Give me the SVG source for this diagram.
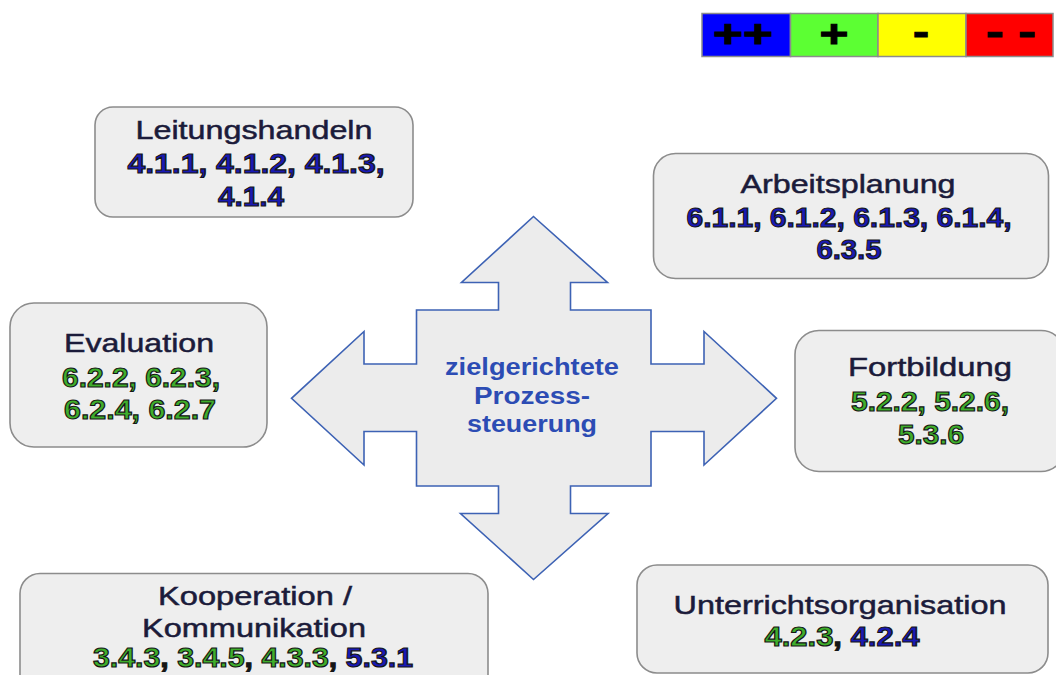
<svg xmlns="http://www.w3.org/2000/svg" width="1056" height="675" viewBox="0 0 1056 675">
<style>
.box{fill:#eeeeee;stroke:#8c8c8c;stroke-width:1.6}
.t{font-family:"Liberation Sans",Arial,sans-serif;font-size:26px;fill:#1b1b3a;stroke:#1b1b3a;stroke-width:0.5;text-anchor:middle}
.n{font-family:"Liberation Sans",Arial,sans-serif;font-size:27px;font-weight:bold;text-anchor:middle;stroke:#151515;stroke-width:1.1}
.b{fill:#1a1ab4}
.g{fill:#3fae2c}
.k{fill:#151515}
.c{font-family:"Liberation Sans",Arial,sans-serif;font-size:23px;font-weight:bold;fill:#2c4cb4;text-anchor:middle}
.lg{font-family:"Liberation Sans",Arial,sans-serif;font-size:38px;font-weight:bold;fill:#000;stroke:#000;stroke-width:1;text-anchor:middle}
.cell{stroke:#8c8c8c;stroke-width:1.5}
</style>
<g id="legend">
<rect class="cell" x="702" y="13.5" width="88.5" height="43" fill="#0000ff"/>
<rect class="cell" x="790.5" y="13.5" width="87.5" height="43" fill="#5cff33"/>
<rect class="cell" x="878" y="13.5" width="88" height="43" fill="#ffff00"/>
<rect class="cell" x="966" y="13.5" width="87" height="43" fill="#ff0000"/>
<text class="lg" x="743" y="47" textLength="60" lengthAdjust="spacingAndGlyphs">++</text>
<text class="lg" x="834" y="47" textLength="29" lengthAdjust="spacingAndGlyphs">+</text>
<text class="lg" x="921" y="45" textLength="16" lengthAdjust="spacingAndGlyphs">-</text>
<text class="lg" x="1011" y="45" textLength="50" lengthAdjust="spacingAndGlyphs">- -</text>
</g>
<g id="center">
<path d="M533.5,216.5 L607.5,282.5 L570.5,282.5 L570.5,310 L651,310 L651,364 L704,364 L704,331.5 L776.5,398.3 L704,465 L704,431.5 L651,431.5 L651,486 L570.5,486 L570.5,513.5 L608,513.5 L533.5,579.5 L460.5,513.5 L498.5,513.5 L498.5,486 L416.5,486 L416.5,431.5 L364,431.5 L364,465 L291.5,398.3 L364,331.5 L364,364 L416.5,364 L416.5,310 L498.5,310 L498.5,282.5 L461.5,282.5 Z" fill="#ececec" stroke="#3d62b4" stroke-width="1.6" stroke-linejoin="miter"/>
<text class="c" x="532" y="375" textLength="174" lengthAdjust="spacingAndGlyphs">zielgerichtete</text>
<text class="c" x="532" y="404" textLength="116" lengthAdjust="spacingAndGlyphs">Prozess-</text>
<text class="c" x="532" y="432" textLength="130" lengthAdjust="spacingAndGlyphs">steuerung</text>
</g>
<g id="leitungshandeln">
<rect class="box" x="95" y="107" width="318" height="110" rx="18"/>
<text class="t" x="254" y="139" textLength="237" lengthAdjust="spacingAndGlyphs">Leitungshandeln</text>
<text class="n b" x="256" y="173" textLength="257" lengthAdjust="spacingAndGlyphs">4.1.1, 4.1.2, 4.1.3,</text>
<text class="n b" x="251" y="206" textLength="66" lengthAdjust="spacingAndGlyphs">4.1.4</text>
</g>
<g id="arbeitsplanung">
<rect class="box" x="653.5" y="153.5" width="395" height="125" rx="22"/>
<text class="t" x="848" y="193" textLength="215" lengthAdjust="spacingAndGlyphs">Arbeitsplanung</text>
<text class="n b" x="849" y="227" textLength="325" lengthAdjust="spacingAndGlyphs">6.1.1, 6.1.2, 6.1.3, 6.1.4,</text>
<text class="n b" x="849" y="259" textLength="65" lengthAdjust="spacingAndGlyphs">6.3.5</text>
</g>
<g id="evaluation">
<rect class="box" x="10" y="303" width="257" height="144" rx="24"/>
<text class="t" x="139" y="352" textLength="150" lengthAdjust="spacingAndGlyphs">Evaluation</text>
<text class="n g" x="141" y="387" textLength="158" lengthAdjust="spacingAndGlyphs">6.2.2, 6.2.3,</text>
<text class="n g" x="140" y="419" textLength="152" lengthAdjust="spacingAndGlyphs">6.2.4, 6.2.7</text>
</g>
<g id="fortbildung">
<rect class="box" x="795" y="330.5" width="270" height="141" rx="24"/>
<text class="t" x="930" y="376" textLength="164" lengthAdjust="spacingAndGlyphs">Fortbildung</text>
<text class="n g" x="930" y="411" textLength="158" lengthAdjust="spacingAndGlyphs">5.2.2, 5.2.6,</text>
<text class="n g" x="931" y="444" textLength="66" lengthAdjust="spacingAndGlyphs">5.3.6</text>
</g>
<g id="kooperation">
<rect class="box" x="20" y="573.5" width="468" height="130" rx="20"/>
<text class="t" x="255" y="605" textLength="194" lengthAdjust="spacingAndGlyphs">Kooperation /</text>
<text class="t" x="254" y="637" textLength="224" lengthAdjust="spacingAndGlyphs">Kommunikation</text>
<text class="n" x="253" y="667" textLength="320" lengthAdjust="spacingAndGlyphs"><tspan class="g">3.4.3</tspan><tspan class="k">, </tspan><tspan class="g">3.4.5</tspan><tspan class="k">, </tspan><tspan class="g">4.3.3</tspan><tspan class="k">, </tspan><tspan class="b">5.3.1</tspan></text>
</g>
<g id="unterrichtsorganisation">
<rect class="box" x="637" y="565" width="411" height="108" rx="20"/>
<text class="t" x="840" y="614" textLength="333" lengthAdjust="spacingAndGlyphs">Unterrichtsorganisation</text>
<text class="n" x="842" y="646" textLength="155" lengthAdjust="spacingAndGlyphs"><tspan class="g">4.2.3</tspan><tspan class="k">, </tspan><tspan class="b">4.2.4</tspan></text>
</g>
<g id="connectors"></g>
</svg>
